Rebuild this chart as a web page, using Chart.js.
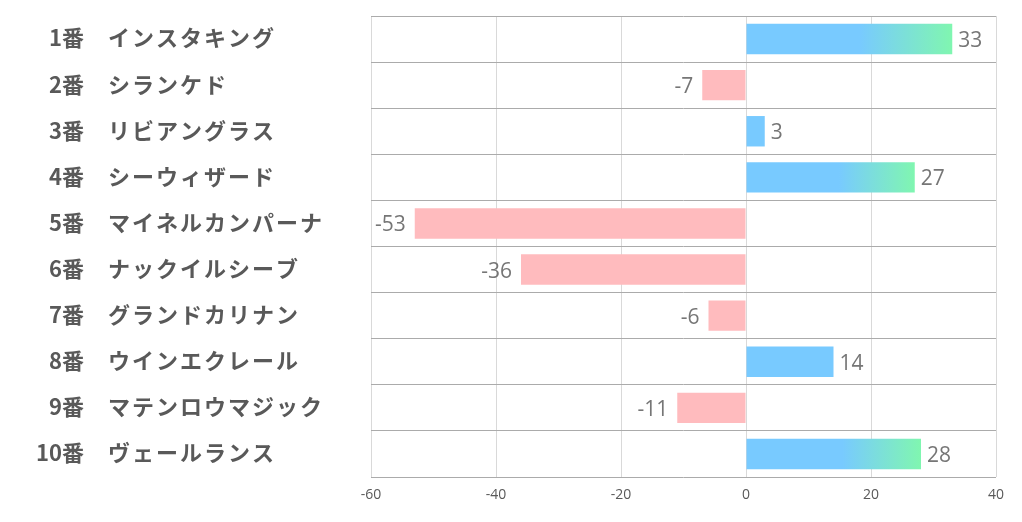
<!DOCTYPE html>
<html>
<head>
<meta charset="utf-8">
<script src="https://cdn.jsdelivr.net/npm/chart.js@4"></script>
<style>
  html, body { margin: 0; padding: 0; background: #fff; }
</style>
</head>
<body>
<canvas id="barChart" width="1022" height="522"></canvas>
<script>
var horseNumbers = ['1番', '2番', '3番', '4番', '5番', '6番', '7番', '8番', '9番', '10番'];
var horseNames = ['インスタキング', 'シランケド', 'リビアングラス', 'シーウィザード', 'マイネルカンパーナ',
    'ナックイルシーブ', 'グランドカリナン', 'ウインエクレール', 'マテンロウマジック', 'ヴェールランス'];
var scores = [33, -7, 3, 27, -53, -36, -6, 14, -11, 28];
var xMin = -60, xMax = 40, xStep = 20;

var blue = 'rgb(120, 202, 255)';
var green = 'rgb(128, 246, 176)';
var pink = 'rgb(255, 187, 190)';

function barColor(ctx) {
    var v = ctx.raw;
    if (v < 0) return pink;
    if (v < 20) return blue;
    var chart = ctx.chart;
    if (!chart.chartArea) return blue;
    var x = chart.scales.x;
    var x0 = x.getPixelForValue(0);
    var x1 = x.getPixelForValue(v);
    var g = chart.ctx.createLinearGradient(x0, 0, x1, 0);
    g.addColorStop(0, blue);
    g.addColorStop(0.55, blue);
    g.addColorStop(1, green);
    return g;
}

// left side labels: number right aligned, name left aligned
var rowLabels = {
    id: 'rowLabels',
    afterDraw: function(chart) {
        var c = chart.ctx;
        var y = chart.scales.y;
        c.save();
        c.fillStyle = '#595959';
        c.font = 'bold 22px "Noto Sans CJK JP"';
        c.textBaseline = 'middle';
        horseNumbers.forEach(function(num, i) {
            var py = y.getPixelForTick(i) - 1;
            c.letterSpacing = '0px';
            c.textAlign = 'right';
            c.fillText(num, 84, py);
            c.letterSpacing = '2px';
            c.textAlign = 'left';
            c.fillText(horseNames[i], 108, py);
        });
        c.restore();
    }
};

var valueLabels = {
    id: 'valueLabels',
    afterDatasetsDraw: function(chart) {
        var c = chart.ctx;
        var meta = chart.getDatasetMeta(0);
        c.save();
        c.fillStyle = '#767676';
        c.font = '21px "Open Sans"';
        c.textBaseline = 'middle';
        meta.data.forEach(function(bar, i) {
            var v = scores[i];
            if (v >= 0) {
                c.textAlign = 'left';
                c.fillText(String(v), bar.x + 6, bar.y + 2);
            } else {
                c.textAlign = 'right';
                c.fillText(String(v), bar.x - 9, bar.y + 2);
            }
        });
        c.restore();
    }
};

var ctx = document.getElementById('barChart').getContext('2d');
var chart = new Chart(ctx, {
    type: 'bar',
    data: {
        labels: horseNumbers.map(function(n, i) { return n + '　' + horseNames[i]; }),
        datasets: [{
            data: scores,
            backgroundColor: barColor,
            borderWidth: 0,
            categoryPercentage: 1,
            barPercentage: 0.66
        }]
    },
    options: {
        indexAxis: 'y',
        responsive: false,
        animation: false,
        layout: { padding: { top: 16, right: 26, left: 0, bottom: 0 } },
        plugins: {
            legend: { display: false },
            tooltip: { enabled: false }
        },
        scales: {
            x: {
                min: xMin,
                max: xMax,
                ticks: {
                    stepSize: xStep,
                    color: '#595959',
                    font: { family: '"Open Sans"', size: 14 },
                    padding: 10
                },
                grid: { color: '#d9d9d9', drawTicks: false },
                border: { display: false },
                afterFit: function(scale) { scale.height = 45; }
            },
            y: {
                ticks: { display: false },
                grid: { color: '#ababab', offset: true, drawTicks: false },
                border: { display: false },
                afterFit: function(scale) { scale.width = 371; }
            }
        }
    },
    plugins: [rowLabels, valueLabels]
});
</script>
</body>
</html>
